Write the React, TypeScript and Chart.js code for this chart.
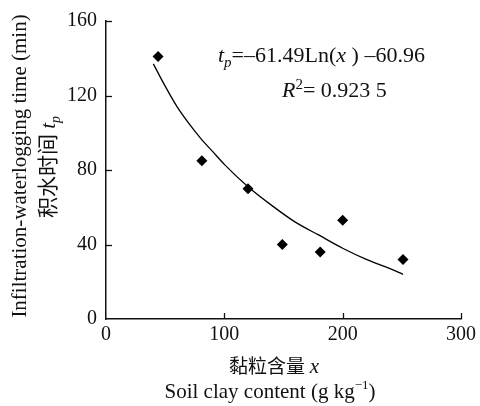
import React, { useEffect, useRef } from "react";
import { Chart, registerables } from "chart.js";

Chart.register(...registerables);

const clayContent = [44, 81, 120, 149, 181, 200, 251];
const waterloggingTime = [141, 85, 70, 40, 36, 53, 32];

// Fitted curve as drawn in the reference
const fitX = [40, 50, 60, 70, 80, 90, 100, 120, 140, 160, 180, 200, 220, 240, 251];
const fitY = [137, 125, 114, 105, 97, 90, 83, 71, 61, 52, 45, 38, 32, 27, 24];

const xTicks = [0, 100, 200, 300];
const yTicks = [0, 40, 80, 120, 160];

const yTitleEn = "Infiltration-waterlogging time (min)";
const yTitleZh = "积水时间";
const xTitleZh = "黏粒含量 ";
const xTitleEn = "Soil clay content (g kg";
const eqMain = "=–61.49Ln(";
const eqTail = " ) –60.96";
const r2Text = "= 0.923 5";

const SERIF = "'Liberation Serif', 'Times New Roman', 'Noto Sans CJK SC', serif";
const INK = "#111";

type Run = { t: string; size: number; italic?: boolean; dy?: number; ls?: number };

function font(r: Run) {
  return `${r.italic ? "italic " : ""}${r.size}px ${SERIF}`;
}

function runW(ctx: CanvasRenderingContext2D, r: Run) {
  ctx.font = font(r);
  let w = 0;
  if (r.ls) {
    for (const ch of Array.from(r.t)) w += ctx.measureText(ch).width + r.ls;
  } else {
    w = ctx.measureText(r.t).width;
  }
  return w;
}

function drawRuns(ctx: CanvasRenderingContext2D, runs: Run[], x: number, y: number, align: "left" | "center") {
  let total = 0;
  for (const r of runs) total += runW(ctx, r);
  let cx = align === "center" ? x - total / 2 : x;
  ctx.textAlign = "left";
  ctx.textBaseline = "alphabetic";
  for (const r of runs) {
    ctx.font = font(r);
    if (r.ls) {
      for (const ch of Array.from(r.t)) {
        ctx.fillText(ch, cx, y + (r.dy || 0));
        cx += ctx.measureText(ch).width + r.ls;
      }
    } else {
      ctx.fillText(r.t, cx, y + (r.dy || 0));
      cx += ctx.measureText(r.t).width;
    }
  }
}

const overlay = {
  id: "overlay",
  afterDraw(chart: any) {
    const { ctx, chartArea } = chart;
    const xs = chart.scales.x;
    const ys = chart.scales.y;
    ctx.save();
    ctx.strokeStyle = INK;
    ctx.lineWidth = 1.3;
    // inward tick marks
    for (const v of yTicks) {
      if (v === 0) continue;
      const py = Math.round(ys.getPixelForValue(v)) + 0.5;
      ctx.beginPath();
      ctx.moveTo(chartArea.left, py);
      ctx.lineTo(chartArea.left + 6, py);
      ctx.stroke();
    }
    for (const v of xTicks) {
      if (v === 0) continue;
      const px = Math.round(xs.getPixelForValue(v)) + 0.5;
      ctx.beginPath();
      ctx.moveTo(px, chartArea.bottom);
      ctx.lineTo(px, chartArea.bottom - 6);
      ctx.stroke();
    }
    ctx.fillStyle = INK;
    // equation
    drawRuns(
      ctx,
      [
        { t: "t", size: 22, italic: true },
        { t: "p", size: 15, italic: true, dy: 5 },
        { t: eqMain, size: 22 },
        { t: "x", size: 22, italic: true },
        { t: eqTail, size: 22 },
      ],
      218,
      62,
      "left"
    );
    drawRuns(
      ctx,
      [
        { t: "R", size: 22, italic: true },
        { t: "2", size: 15, dy: -8 },
        { t: r2Text, size: 22 },
      ],
      282,
      97,
      "left"
    );
    // x titles
    drawRuns(
      ctx,
      [
        { t: xTitleZh, size: 19 },
        { t: "x", size: 21, italic: true },
      ],
      274,
      373,
      "center"
    );
    drawRuns(
      ctx,
      [
        { t: xTitleEn, size: 21 },
        { t: "−1", size: 13, dy: -9 },
        { t: ")", size: 21 },
      ],
      270,
      398,
      "center"
    );
    // y titles (rotated)
    ctx.save();
    ctx.translate(26, 166);
    ctx.rotate(-Math.PI / 2);
    drawRuns(ctx, [{ t: yTitleEn, size: 21 }], 0, 0, "center");
    ctx.restore();
    ctx.save();
    ctx.translate(55, 167);
    ctx.rotate(-Math.PI / 2);
    drawRuns(
      ctx,
      [
        { t: yTitleZh, size: 21 },
        { t: " ", size: 21 },
        { t: "t", size: 21, italic: true },
        { t: "p", size: 14, italic: true, dy: 5 },
      ],
      0,
      0,
      "center"
    );
    ctx.restore();
    ctx.restore();
  },
};

export default function App() {
  const ref = useRef<HTMLCanvasElement | null>(null);
  useEffect(() => {
    if (!ref.current) return;
    const chart = new Chart(ref.current, {
      type: "scatter",
      data: {
        datasets: [
          {
            label: "observed",
            data: clayContent.map((x, i) => ({ x, y: waterloggingTime[i] })),
            pointStyle: "rectRot",
            pointRadius: 5.5,
            pointBackgroundColor: "#000",
            pointBorderColor: "#000",
            pointBorderWidth: 0,
            showLine: false,
          },
          {
            label: "fit",
            data: fitX.map((x, i) => ({ x, y: fitY[i] })),
            showLine: true,
            pointRadius: 0,
            borderColor: "#000",
            borderWidth: 1.3,
            cubicInterpolationMode: "monotone",
          } as any,
        ],
      },
      options: {
        animation: false,
        responsive: false,
        maintainAspectRatio: false,
        layout: { padding: { top: 15, right: 14, left: 0, bottom: 0 } },
        plugins: { legend: { display: false }, tooltip: { enabled: false } },
        scales: {
          x: {
            type: "linear",
            min: 0,
            max: 300,
            afterFit: (s: any) => {
              s.height = 87;
            },
            afterBuildTicks: (s: any) => {
              s.ticks = xTicks.map((v) => ({ value: v }));
            },
            grid: { display: false, drawTicks: false },
            border: { display: true, color: INK, width: 1.5 },
            ticks: {
              padding: 4,
              color: INK,
              font: { family: SERIF, size: 20 },
              maxRotation: 0,
            },
          },
          y: {
            type: "linear",
            min: 0,
            max: 160,
            afterFit: (s: any) => {
              s.width = 106;
            },
            afterBuildTicks: (s: any) => {
              s.ticks = yTicks.map((v) => ({ value: v }));
            },
            grid: { display: false, drawTicks: false },
            border: { display: true, color: INK, width: 1.5 },
            ticks: {
              padding: 9,
              color: INK,
              font: { family: SERIF, size: 20 },
            },
          },
        },
      },
      plugins: [overlay],
    } as any);
    return () => chart.destroy();
  }, []);
  return (
    <div style={{ position: "absolute", left: 0, top: 0, width: 480, height: 406, background: "#fff" }}>
      <canvas ref={ref} width={480} height={406} style={{ display: "block" }} />
    </div>
  );
}
